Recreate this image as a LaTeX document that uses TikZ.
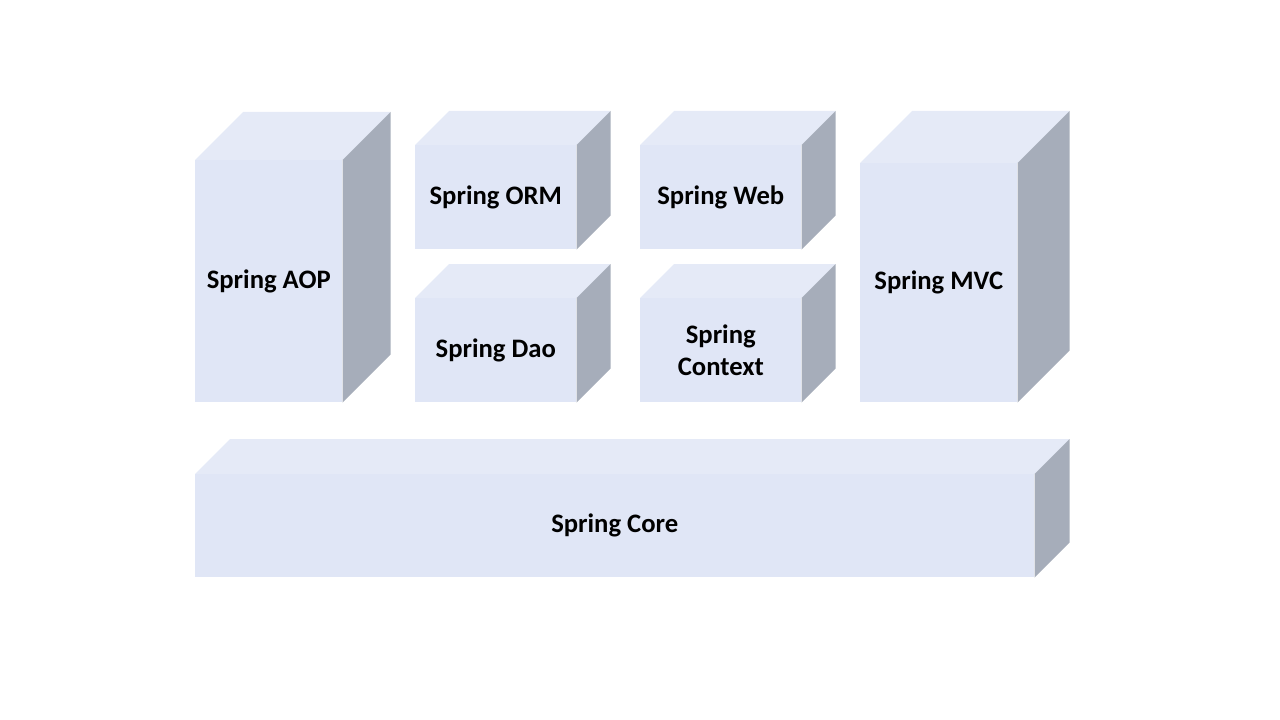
\documentclass[tikz,border=0pt]{standalone}
\usepackage{fontspec}
\setmainfont{Carlito}
\definecolor{frontblue}{RGB}{224,230,246}
\definecolor{topblue}{RGB}{229,234,247}
\definecolor{sidegray}{RGB}{166,173,186}
\begin{document}
\begin{tikzpicture}[x=0.75pt,y=-0.75pt]
\tikzset{front/.style 2 args={fill=frontblue, inner sep=0pt, anchor=north west, align=center,
    minimum width=#1*0.75pt, minimum height=#2*0.75pt, font=\bfseries\fontsize{20}{24}\selectfont}}
\useasboundingbox (0,0) rectangle (1280,720);
% front faces
\node[front={147}{242}] (aop) at (195,160) {Spring AOP};
\node[front={161}{104}] (orm) at (415,145) {Spring ORM};
\node[front={161}{104}] (dao) at (415,298) {Spring Dao};
\node[front={161}{104}] (web) at (640,145) {Spring Web};
\node[front={161}{104}] (ctx) at (640,298) {Spring\\Context};
\node[front={157}{239}] (mvc) at (860,163) {Spring MVC};
\node[front={839}{103}] (core) at (195,474) {Spring Core};
% top and side faces
\foreach \n/\d in {aop/48, orm/34, dao/34, web/34, ctx/34, mvc/52, core/35} {
  \fill[topblue] (\n.north west) -- ++(\d,-\d) -- ([shift={(\d,-\d)}]\n.north east) -- (\n.north east) -- cycle;
  \fill[sidegray] (\n.north east) -- ++(\d,-\d) -- ([shift={(\d,-\d)}]\n.south east) -- (\n.south east) -- cycle;
}
\end{tikzpicture}
\end{document}
